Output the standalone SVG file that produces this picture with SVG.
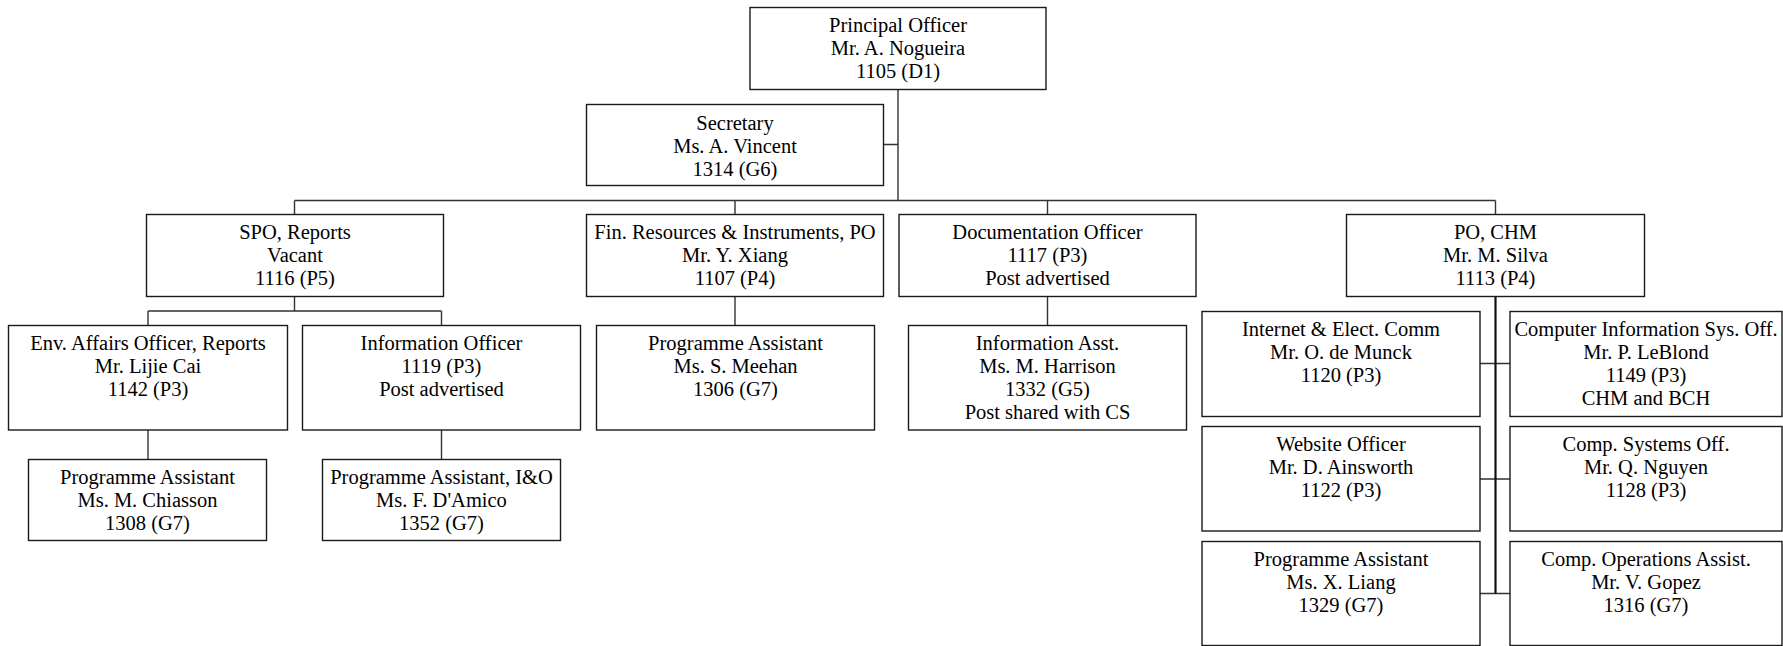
<svg xmlns="http://www.w3.org/2000/svg" width="1783" height="646" viewBox="0 0 1783 646">
<style>
.b{fill:#fff;stroke:#1a1a1a;stroke-width:1.4}
.c{fill:none;stroke:#333;stroke-width:1.4}
.k{fill:none;stroke:#111;stroke-width:2.2}
.t text{font-size:20.5px;fill:#000;text-anchor:middle}
</style>
<rect width="1783" height="646" fill="#fff"/>
<g id="connectors">
<path class="c" d="M898,89.5V200.5M883.5,144.5H898M294.5,200.5H1495.5M294.5,200.5V214.5M735,200.5V214.5M1047.5,200.5V214.5M1495.5,200.5V214.5"/>
<path class="c" d="M294.5,296.5V311M148,311H441.5M148,311V325.5M441.5,311V325.5M735,296.5V325.5M1047.5,296.5V325.5M148,430V459.5M441.5,430V459.5"/>
<path class="c" d="M1480,363.5H1510M1480,479H1510M1480,593.5H1510"/>
<path class="k" d="M1495.5,296.5V593.5"/>
</g>
<g class="t" font-family="Liberation Serif, Times New Roman, serif">
<g id="principal"><rect class="b" x="750" y="7.5" width="296" height="82"/>
<text x="898" y="32.3">Principal Officer</text><text x="898" y="55.3">Mr. A. Nogueira</text><text x="898" y="78.3">1105 (D1)</text></g>
<g id="secretary"><rect class="b" x="586.5" y="104.5" width="297" height="81"/>
<text x="735" y="130">Secretary</text><text x="735" y="153">Ms. A. Vincent</text><text x="735" y="176">1314 (G6)</text></g>
<g id="spo"><rect class="b" x="146.5" y="214.5" width="297" height="82"/>
<text x="295" y="239.3">SPO, Reports</text><text x="295" y="262.3">Vacant</text><text x="295" y="285.3">1116 (P5)</text></g>
<g id="fin"><rect class="b" x="586.5" y="214.5" width="297" height="82"/>
<text x="735" y="239.3">Fin. Resources &amp; Instruments, PO</text><text x="735" y="262.3">Mr. Y. Xiang</text><text x="735" y="285.3">1107 (P4)</text></g>
<g id="doc"><rect class="b" x="899" y="214.5" width="297" height="82"/>
<text x="1047.5" y="239.3">Documentation Officer</text><text x="1047.5" y="262.3">1117 (P3)</text><text x="1047.5" y="285.3">Post advertised</text></g>
<g id="chm"><rect class="b" x="1346.5" y="214.5" width="298" height="82"/>
<text x="1495.5" y="239.3">PO, CHM</text><text x="1495.5" y="262.3">Mr. M. Silva</text><text x="1495.5" y="285.3">1113 (P4)</text></g>
<g id="env"><rect class="b" x="8.5" y="325.5" width="279" height="104.5"/>
<text x="148" y="350.3">Env. Affairs Officer, Reports</text><text x="148" y="373.3">Mr. Lijie Cai</text><text x="148" y="396.3">1142 (P3)</text></g>
<g id="infoofficer"><rect class="b" x="302.5" y="325.5" width="278" height="104.5"/>
<text x="441.5" y="350.3">Information Officer</text><text x="441.5" y="373.3">1119 (P3)</text><text x="441.5" y="396.3">Post advertised</text></g>
<g id="meehan"><rect class="b" x="596.5" y="325.5" width="278" height="104.5"/>
<text x="735.5" y="350.3">Programme Assistant</text><text x="735.5" y="373.3">Ms. S. Meehan</text><text x="735.5" y="396.3">1306 (G7)</text></g>
<g id="harrison"><rect class="b" x="908.5" y="325.5" width="278" height="104.5"/>
<text x="1047.5" y="350.3">Information Asst.</text><text x="1047.5" y="373.3">Ms. M. Harrison</text><text x="1047.5" y="396.3">1332 (G5)</text><text x="1047.5" y="419.3">Post shared with CS</text></g>
<g id="chiasson"><rect class="b" x="28.5" y="459.5" width="238" height="81"/>
<text x="147.5" y="484.3">Programme Assistant</text><text x="147.5" y="507.3">Ms. M. Chiasson</text><text x="147.5" y="530.3">1308 (G7)</text></g>
<g id="damico"><rect class="b" x="322.5" y="459.5" width="238" height="81"/>
<text x="441.5" y="484.3">Programme Assistant, I&amp;O</text><text x="441.5" y="507.3">Ms. F. D'Amico</text><text x="441.5" y="530.3">1352 (G7)</text></g>
<g id="internet"><rect class="b" x="1202" y="311.5" width="278" height="105"/>
<text x="1341" y="336">Internet &amp; Elect. Comm</text><text x="1341" y="359">Mr. O. de Munck</text><text x="1341" y="382">1120 (P3)</text></g>
<g id="website"><rect class="b" x="1202" y="426.5" width="278" height="104.5"/>
<text x="1341" y="451">Website Officer</text><text x="1341" y="474">Mr. D. Ainsworth</text><text x="1341" y="497">1122 (P3)</text></g>
<g id="liang"><rect class="b" x="1202" y="541.5" width="278" height="104"/>
<text x="1341" y="566">Programme Assistant</text><text x="1341" y="589">Ms. X. Liang</text><text x="1341" y="612">1329 (G7)</text></g>
<g id="leblond"><rect class="b" x="1510" y="311.5" width="272" height="105"/>
<text x="1646" y="336">Computer Information Sys. Off.</text><text x="1646" y="359">Mr. P. LeBlond</text><text x="1646" y="382">1149 (P3)</text><text x="1646" y="405">CHM and BCH</text></g>
<g id="nguyen"><rect class="b" x="1510" y="426.5" width="272" height="104.5"/>
<text x="1646" y="451">Comp. Systems Off.</text><text x="1646" y="474">Mr. Q. Nguyen</text><text x="1646" y="497">1128 (P3)</text></g>
<g id="gopez"><rect class="b" x="1510" y="541.5" width="272" height="104"/>
<text x="1646" y="566">Comp. Operations Assist.</text><text x="1646" y="589">Mr. V. Gopez</text><text x="1646" y="612">1316 (G7)</text></g>
</g>
</svg>
